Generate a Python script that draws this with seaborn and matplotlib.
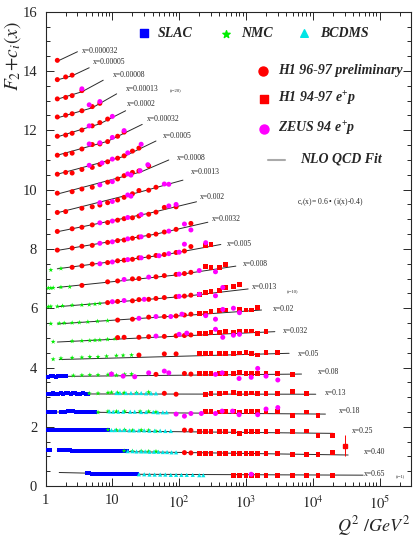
import matplotlib
matplotlib.use('Agg')
import matplotlib.pyplot as plt
import seaborn as sns
import pandas as pd
from matplotlib.ticker import FixedLocator, FixedFormatter, LogLocator, MultipleLocator, NullFormatter

# x bins, top (i=23) to bottom (i=1)
x_bins = ['0.000032', '0.00005', '0.00008', '0.00013', '0.0002', '0.00032', '0.0005',
          '0.0008', '0.0013', '0.002', '0.0032', '0.005', '0.008', '0.013', '0.02',
          '0.032', '0.05', '0.08', '0.13', '0.18', '0.25', '0.40', '0.65']

# NLO QCD fit, knots (Q2, F2 + c_i)
fit_q2 = [[1.5, 3.0], [1.5, 2.5, 4.5], [1.5, 3.5, 7.3], [1.5, 5, 11.6], [1.5, 6.5, 15.8],
          [1.5, 8.5, 28], [1.5, 15, 45], [1.5, 27, 70], [1.5, 27, 114], [1.5, 35, 182],
          [1.5, 45, 269], [1.5, 60, 421], [1.5, 90, 706], [1.5, 120, 1079], [1.5, 200, 1713],
          [1.5, 150, 2710], [1.6, 4430], [1.5, 6800], [1.5, 11100], [1.5, 15500],
          [1.5, 20200], [1.5, 33900], [1.6, 23, 56800]]
fit_f2 = [[14.33, 14.65], [13.70, 13.84, 14.11], [13.05, 13.30, 13.69], [12.42, 12.76, 13.23],
          [11.78, 12.22, 12.66], [11.16, 11.63, 12.20], [10.52, 11.12, 11.64], [9.85, 10.60, 11.00],
          [9.22, 9.93, 10.32], [8.58, 9.20, 9.59], [7.95, 8.50, 8.90], [7.33, 7.80, 8.15],
          [6.70, 7.12, 7.42], [6.05, 6.40, 6.65], [5.47, 5.79, 5.94], [4.86, 5.08, 5.21],
          [4.27, 4.48], [3.70, 3.78], [3.11, 3.10], [2.50, 2.43], [1.88, 1.78], [1.20, 1.05],
          [0.46, 0.40, 0.37]]

# where the x= labels sit
label_q2 = [3.46, 5.05, 10.2, 15.9, 16.5, 32.5, 57, 91.5, 150, 204, 305, 513, 908, 1213,
            2530, 3530, 6040, 12050, 15200, 24800, 38900, 58800, 58800]
label_f2 = [14.68, 14.29, 13.87, 13.39, 12.89, 12.38, 11.82, 11.08, 10.60, 9.76, 9.00, 8.16,
            7.48, 6.70, 5.97, 5.23, 4.44, 3.86, 3.15, 2.53, 1.87, 1.16, 0.40]

# SLAC
slac_q2 = [1.1, 1.2, 1.3, 1.45, 1.55, 1.7, 1.95, 2.05,
           1.05, 1.1, 1.2, 1.3, 1.4, 1.55, 1.7, 1.85, 2.0, 2.2, 2.4, 2.6, 2.8, 3.0, 3.3, 3.6, 4.0, 4.3,
           1.03, 1.1, 1.23, 1.38, 1.73, 1.95, 2.2, 2.45, 2.6, 2.9, 3.1, 3.3, 3.5, 3.9, 4.35, 4.6, 5.2, 5.5,
           1.0, 1.05, 1.15, 1.25, 1.35, 1.5, 1.6, 1.75, 1.9, 2.1, 2.3, 2.5, 2.7, 3.0, 3.3, 3.6, 4.0,
           4.4, 4.8, 5.3, 5.8, 6.4, 7.0, 7.6, 8.2, 8.7,
           1.05, 1.15, 1.6, 1.75, 1.9, 2.1, 2.3, 2.5, 2.8, 3.1, 3.4, 3.8, 4.2, 4.7, 5.2, 5.8, 6.4,
           7.1, 7.9, 8.8, 9.8, 10.9, 12.1, 13.4, 14.9, 16.5,
           4.1, 4.5, 5.0, 5.5, 6.0, 6.6, 7.2, 7.9, 8.7, 9.5, 10.4, 11.4, 12.5, 13.7, 15, 16.5, 18,
           19.8, 21.7, 23.5]
slac_f2 = [3.69, 3.70, 3.71, 3.69, 3.70, 3.70, 3.71, 3.70,
           3.12, 3.12, 3.12, 3.13, 3.12, 3.12, 3.13, 3.12, 3.13, 3.13, 3.12, 3.13, 3.13, 3.12, 3.12, 3.13, 3.12, 3.12,
           2.51, 2.50, 2.50, 2.51, 2.51, 2.51, 2.52, 2.52, 2.52, 2.51, 2.51, 2.51, 2.50, 2.50, 2.51, 2.51, 2.51, 2.50,
           1.90, 1.90, 1.90, 1.90, 1.90, 1.90, 1.90, 1.90, 1.90, 1.90, 1.90, 1.90, 1.90, 1.90, 1.90, 1.89, 1.90,
           1.89, 1.89, 1.89, 1.89, 1.89, 1.88, 1.89, 1.88, 1.88,
           1.21, 1.21, 1.21, 1.21, 1.21, 1.21, 1.21, 1.20, 1.20, 1.20, 1.20, 1.20, 1.20, 1.20, 1.20, 1.19, 1.19,
           1.19, 1.19, 1.19, 1.19, 1.18, 1.18, 1.18, 1.18, 1.18,
           0.43, 0.43, 0.42, 0.42, 0.42, 0.42, 0.42, 0.42, 0.42, 0.42, 0.41, 0.41, 0.41, 0.41, 0.41, 0.41, 0.40,
           0.40, 0.40, 0.40]

# NMC
nmc_q2 = [1.2, 1.7,
          1.1, 1.2, 1.3, 1.7, 2.3,
          1.1, 1.2, 1.5, 1.8, 2.5, 3.5, 4.5, 5.5, 6.5,
          1.2, 1.6, 1.9, 2.5, 3.2, 4.3, 6, 8.5,
          1.3, 2.5, 3.5, 4.6, 5.5, 6.5, 8.5, 11,
          1.3, 1.7, 2.5, 3.5, 4.6, 6.1, 8.2, 11.5, 14.5, 19.4,
          2.6, 3.5, 4.6, 6.1, 8.6, 9.7, 11.5, 15.3, 19.4,
          4.5, 6.1, 8.6, 9.7, 12, 15, 23, 35,
          6.1, 8.6, 11.5, 15.3, 26, 35, 45,
          8.6, 11.5, 15.3, 20, 27, 35, 45,
          15, 20, 27, 35, 45]
nmc_f2 = [7.29, 7.34,
          6.68, 6.68, 6.69, 6.71, 6.72,
          6.05, 6.06, 6.06, 6.08, 6.10, 6.11, 6.12, 6.14, 6.16,
          5.48, 5.49, 5.50, 5.51, 5.52, 5.54, 5.56, 5.58,
          4.87, 4.89, 4.90, 4.91, 4.92, 4.93, 4.95, 4.97,
          4.28, 4.31, 4.33, 4.34, 4.36, 4.36, 4.38, 4.40, 4.41, 4.42,
          3.73, 3.74, 3.75, 3.75, 3.76, 3.80, 3.74, 3.77, 3.78,
          3.13, 3.13, 3.15, 3.16, 3.15, 3.15, 3.15, 3.17,
          2.49, 2.52, 2.52, 2.52, 2.52, 2.52, 2.50,
          1.90, 1.89, 1.90, 1.88, 1.89, 1.88, 1.85,
          1.19, 1.18, 1.18, 1.17, 1.17]

# BCDMS
bcdms_q2 = [11.5, 13, 16, 19, 23, 27, 32, 38, 45,
            9, 10.3, 12.3, 14.5, 18.5, 21.6, 27, 32, 41, 48, 57, 65,
            9.7, 11, 13, 15, 18, 21, 25, 30, 36, 43, 52, 62, 75,
            17, 20, 23, 27, 31, 36, 42, 49, 57, 66, 77, 90,
            25, 30, 36, 43, 52, 62, 75, 90, 108, 130, 160, 200, 230]
bcdms_f2 = [3.14, 3.14, 3.14, 3.14, 3.14, 3.14, 3.13, 3.13, 3.13,
            2.52, 2.51, 2.51, 2.51, 2.51, 2.51, 2.50, 2.50, 2.50, 2.49, 2.49, 2.49,
            1.89, 1.89, 1.89, 1.89, 1.88, 1.88, 1.88, 1.88, 1.87, 1.87, 1.87, 1.86, 1.86,
            1.18, 1.18, 1.17, 1.17, 1.17, 1.16, 1.16, 1.16, 1.15, 1.15, 1.14, 1.14,
            0.40, 0.40, 0.39, 0.39, 0.39, 0.39, 0.38, 0.38, 0.38, 0.38, 0.38, 0.37, 0.37]

# H1 96-97 preliminary
h1p_q2 = [1.5,
          1.5, 2, 2.5,
          1.5, 2, 2.5, 3.5,
          1.5, 2, 2.5, 3.5, 5, 6.5,
          1.5, 2, 2.5, 3.5, 5, 6.5, 8.5,
          1.5, 2, 2.5, 3.5, 5, 6.5, 8.5, 12, 15,
          1.5, 2, 2.5, 3.5, 5, 6.5, 8.5, 12, 15, 20, 25,
          1.5, 2.5, 3.5, 5, 8.5, 12, 15, 20, 25, 35,
          1.5, 2, 3.5, 5, 6.5, 8.5, 12, 15, 20, 25, 35, 45,
          1.5, 2.5, 3.5, 5, 8.5, 12, 15, 20, 25, 35, 45, 60, 90,
          1.5, 2.5, 3.5, 5, 8.5, 12, 15, 20, 25, 35, 45, 60, 90, 150,
          2.5, 3.5, 5, 8.5, 12, 15, 20, 25, 35, 45, 60, 90, 120, 150,
          3.5, 8.5, 12, 20, 25, 45, 60, 90, 120, 150,
          8.5, 12, 20, 25, 35, 45, 60, 90, 120, 150,
          12, 20, 35, 60, 90, 120, 150,
          12, 15, 25, 35, 60, 90, 120, 150,
          25, 60, 90,
          45, 120, 150,
          60, 90,
          120, 150,
          120, 150]
h1p_f2 = [14.36,
          13.71, 13.80, 13.86,
          13.06, 13.11, 13.17, 13.34,
          12.45, 12.51, 12.56, 12.66, 12.80, 12.91,
          11.80, 11.84, 11.90, 12.01, 12.15, 12.26, 12.38,
          11.16, 11.19, 11.23, 11.37, 11.52, 11.54, 11.62, 11.80, 11.94,
          10.52, 10.58, 10.56, 10.68, 10.75, 10.85, 10.94, 11.06, 11.14, 11.30, 11.40,
          9.88, 9.93, 10.02, 10.08, 10.25, 10.36, 10.47, 10.58, 10.63, 10.80,
          9.23, 9.26, 9.37, 9.42, 9.48, 9.56, 9.65, 9.74, 9.86, 9.97, 9.98, 10.08,
          8.59, 8.68, 8.73, 8.81, 8.89, 8.97, 9.02, 9.05, 9.11, 9.17, 9.24, 9.40, 9.42,
          7.96, 8.03, 8.09, 8.12, 8.22, 8.28, 8.30, 8.36, 8.40, 8.45, 8.50, 8.57, 8.66, 8.86,
          7.38, 7.43, 7.49, 7.54, 7.60, 7.62, 7.65, 7.70, 7.73, 7.78, 7.81, 7.88, 7.93, 8.08,
          6.77, 6.89, 6.92, 6.99, 7.00, 7.06, 7.10, 7.14, 7.17, 7.21,
          6.19, 6.23, 6.25, 6.29, 6.30, 6.33, 6.36, 6.39, 6.41, 6.44,
          5.60, 5.63, 5.70, 5.72, 5.74, 5.77, 5.80,
          5.01, 5.02, 5.02, 5.04, 5.05, 5.07, 5.08, 5.10,
          4.42, 4.46, 4.46,
          3.77, 3.80, 3.78,
          3.13, 3.10,
          1.89, 1.88,
          1.13, 1.12]

# H1 94-97 e+p
h1_q2 = [250, 300,
         250, 300, 400, 500,
         200, 250, 300, 400, 500, 650, 800,
         200, 250, 300, 400, 500, 800, 1000, 1200, 1500,
         200, 250, 300, 400, 500, 650, 800, 1000, 1200, 1500, 2000,
         200, 250, 300, 400, 500, 650, 800, 1000, 1200, 1500, 2000, 3000,
         200, 250, 300, 400, 500, 650, 800, 1000, 1200, 1500, 2000, 3000, 5000,
         250, 300, 400, 500, 650, 800, 1000, 1200, 1500, 2000, 3000, 5000, 8000,
         250, 300, 400, 500, 650, 800, 1000, 1200, 1500, 2000, 3000, 5000, 8000, 12000,
         200, 250, 300, 400, 500, 650, 800, 1000, 1200, 1500, 2000, 3000, 5000, 8000, 12000, 20000,
         200, 250, 300, 400, 500, 650, 800, 1000, 1200, 1500, 2000, 3000, 5000, 8000, 12000, 20000,
         650, 800, 1000, 1200, 1500, 2000, 3000, 5000, 8000, 12000, 20000]
h1_f2 = [8.12, 8.14,
         7.42, 7.38, 7.38, 7.48,
         6.47, 6.52, 6.56, 6.61, 6.70, 6.72, 6.80,
         5.81, 5.83, 5.88, 5.91, 5.94, 5.96, 5.94, 5.94, 6.02,
         5.15, 5.15, 5.17, 5.17, 5.21, 5.17, 5.23, 5.23, 5.23, 5.15, 5.21,
         4.47, 4.48, 4.47, 4.46, 4.47, 4.47, 4.49, 4.52, 4.47, 4.42, 4.50, 4.50,
         3.79, 3.80, 3.80, 3.80, 3.79, 3.80, 3.82, 3.80, 3.80, 3.80, 3.80, 3.81, 3.77,
         3.09, 3.12, 3.13, 3.14, 3.15, 3.12, 3.13, 3.14, 3.13, 3.13, 3.12, 3.18, 3.13,
         2.51, 2.51, 2.50, 2.51, 2.51, 2.50, 2.51, 2.51, 2.52, 2.51, 2.51, 2.37, 2.50, 2.37,
         1.83, 1.83, 1.83, 1.83, 1.83, 1.83, 1.78, 1.83, 1.83, 1.83, 1.83, 1.83, 1.83, 1.86, 1.72, 1.72,
         1.10, 1.10, 1.10, 1.11, 1.10, 1.10, 1.10, 1.10, 1.09, 1.10, 1.10, 1.10, 1.08, 1.07, 1.07, 1.14,
         0.37, 0.37, 0.37, 0.37, 0.37, 0.37, 0.37, 0.37, 0.37, 0.37, 0.37]
# highest-Q2 point at x=0.25 with its large error
h1_err_q2 = [30000]
h1_err_f2 = [1.36]
h1_err = [0.35]

# ZEUS 94 e+p
zeus_q2 = [3.5,
           4.5, 6.5,
           4.5, 10,
           4.5, 6.5, 10, 15,
           4.5, 7, 10, 17, 27,
           6.5, 10, 17, 19, 26, 34,
           6.5, 10, 17, 19, 60, 70,
           6.5, 10, 17, 27, 70, 90,
           6.5, 10, 17, 27, 70, 120, 150,
           6.5, 10, 17, 27, 50, 70, 100, 120, 250,
           15, 35, 100, 200, 350,
           10, 15, 30, 100, 200, 350, 450,
           25, 45, 75, 110, 250, 350, 450, 650, 800,
           45, 100, 130, 350, 450, 650, 800,
           9.7, 14.5, 21.6, 35, 60, 70, 350, 440, 790, 1200, 1500, 2000, 3000,
           90, 120, 150, 215, 350, 440, 630, 790, 1500, 2000, 3000,
           1200]
zeus_f2 = [13.40,
           12.86, 12.97,
           12.15, 12.47,
           11.54, 11.58, 11.76, 11.99,
           10.82, 10.90, 11.03, 11.24, 11.53,
           10.16, 10.27, 10.53, 10.49, 10.64, 10.84,
           9.56, 9.60, 9.82, 9.78, 10.19, 10.18,
           8.88, 8.94, 9.06, 9.16, 9.45, 9.50,
           8.19, 8.24, 8.34, 8.41, 8.60, 8.84, 8.64,
           7.50, 7.56, 7.64, 7.70, 7.77, 7.84, 7.89, 8.16, 8.21,
           6.97, 7.05, 7.15, 7.27, 7.23,
           6.22, 6.26, 6.30, 6.40, 6.47, 6.42, 6.70,
           5.66, 5.72, 5.72, 5.80, 5.75, 5.63, 5.96, 6.00, 5.85,
           5.06, 5.12, 5.16, 5.29, 5.02, 5.09, 5.12,
           3.78, 3.71, 3.69, 3.82, 3.88, 3.82, 3.77, 3.82, 3.63, 3.67, 3.97, 3.71, 3.58,
           2.43, 2.36, 2.45, 2.45, 2.45, 2.53, 2.53, 2.41, 2.41, 2.60, 2.65,
           0.40]

fits = pd.concat([pd.DataFrame({'Q2': q, 'F2': f, 'bin': i})
                  for i, (q, f) in enumerate(zip(fit_q2, fit_f2))])

sets = [
    ('SLAC', slac_q2, slac_f2, 's', '#0000ff', 8),
    ('NMC', nmc_q2, nmc_f2, '*', '#00ee00', 14),
    ('BCDMS', bcdms_q2, bcdms_f2, '^', '#00e5e5', 9),
    ('H1 96-97 preliminary', h1p_q2, h1p_f2, 'o', '#ff0000', 13),
    ('H1 94-97 e+p', h1_q2, h1_f2, 's', '#ff0000', 12),
    ('ZEUS 94 e+p', zeus_q2, zeus_f2, 'o', '#ff00ff', 13),
]

sns.set_style('ticks')
plt.rcParams.update({
    'font.family': ['Liberation Serif', 'DejaVu Serif'],
    'mathtext.fontset': 'stix',
    'mathtext.it': 'Liberation Serif:italic:bold',
    'mathtext.rm': 'Liberation Serif:bold',
    'mathtext.bf': 'Liberation Serif:bold',
    'xtick.direction': 'in', 'ytick.direction': 'in',
    'axes.linewidth': 0.8,
})

fig = plt.figure(figsize=(4.18, 5.45), dpi=100)
ax = fig.add_axes([0.109, 0.108, 0.874, 0.8705])

sns.lineplot(data=fits, x='Q2', y='F2', units='bin', estimator=None, sort=False,
             color='#2a2a2a', lw=0.7, ax=ax)

for name, q, f, mk, col, sz in sets:
    df = pd.DataFrame({'Q2': q, 'F2': f})
    sns.scatterplot(data=df, x='Q2', y='F2', marker=mk, color=col, s=sz,
                    edgecolor='none', linewidth=0, ax=ax, zorder=3)

ax.errorbar(h1_err_q2, h1_err_f2, yerr=h1_err, fmt='s', color='#ff0000', ms=3.2,
            elinewidth=0.7, capsize=0, zorder=3)

ax.set_xscale('log')
ax.set_xlim(1, 2.95e5)
ax.set_ylim(0, 16)
ax.set_xlabel('')
ax.set_ylabel('')

ax.xaxis.set_major_locator(FixedLocator([1, 10, 1e2, 1e3, 1e4, 1e5]))
ax.xaxis.set_major_formatter(FixedFormatter(['1', '10', r'$10^{2}$', r'$10^{3}$',
                                             r'$10^{4}$', r'$10^{5}$']))
ax.xaxis.set_minor_locator(LogLocator(base=10, subs=range(2, 10)))
ax.xaxis.set_minor_formatter(NullFormatter())
ax.yaxis.set_major_locator(MultipleLocator(2))
ax.yaxis.set_minor_locator(MultipleLocator(0.5))
ax.tick_params(which='both', top=True, right=True, labelsize=10.5, width=0.7)
ax.tick_params(which='major', length=6)
ax.tick_params(which='minor', length=3)
ax.tick_params(axis='y', pad=6)
ax.tick_params(axis='x', pad=6)
for lab in ax.get_xticklabels():
    lab.set_math_fontfamily('stix')

# x-bin labels next to each curve
for lab, q, f in zip(x_bins, label_q2, label_f2):
    ax.text(q, f, 'x=' + lab, fontsize=5.5, va='center', ha='left')
ax.text(72.8, 13.36, '(i=20)', fontsize=3.3, va='center')
ax.text(4050, 6.59, '(i=10)', fontsize=3.3, va='center')
ax.text(175000, 0.34, '(i=1)', fontsize=3.3, va='center')
ax.text(0.687, 0.598, r'c$_i$(x)= 0.6 • (i(x)-0.4)', fontsize=5.5, transform=ax.transAxes,
        va='center', math_fontfamily='stix')

# legend drawn by hand, as in the original layout
leg_font = dict(fontsize=10, fontweight='bold', fontstyle='italic', va='center',
                transform=ax.transAxes, math_fontfamily='custom')
ax.scatter([0.269], [0.955], marker='s', s=34, color='#0000ff', transform=ax.transAxes, clip_on=False)
ax.text(0.307, 0.955, 'SLAC', **leg_font)
ax.scatter([0.494], [0.953], marker='*', s=30, color='#00ee00', transform=ax.transAxes, clip_on=False)
ax.text(0.535, 0.955, 'NMC', **leg_font)
ax.scatter([0.707], [0.955], marker='^', s=30, color='#00e5e5', transform=ax.transAxes, clip_on=False)
ax.text(0.751, 0.955, 'BCDMS', **leg_font)
ax.scatter([0.595], [0.876], marker='o', s=42, color='#ff0000', transform=ax.transAxes)
ax.text(0.636, 0.876, 'H1 96-97 preliminary', **leg_font)
ax.scatter([0.597], [0.817], marker='s', s=38, color='#ff0000', transform=ax.transAxes)
ax.text(0.636, 0.817, r'H1 94-97 $e^{+}p$', **leg_font)
ax.scatter([0.597], [0.753], marker='o', s=42, color='#ff00ff', transform=ax.transAxes)
ax.text(0.636, 0.753, r'ZEUS 94 $e^{+}p$', **leg_font)
ax.plot([0.609, 0.655], [0.687, 0.687], color='#aaaaaa', lw=1.5, transform=ax.transAxes)
ax.text(0.696, 0.689, 'NLO QCD Fit', **leg_font)

fig.text(0.03, 0.897, r'$F_2\!+\!c_i(x)$', rotation=90, fontsize=14, ha='center', va='center')
fig.text(0.982, 0.035, r'$Q^2\ /GeV^2$', fontsize=13, ha='right', va='center')

fig.savefig('out.png', dpi=100)
